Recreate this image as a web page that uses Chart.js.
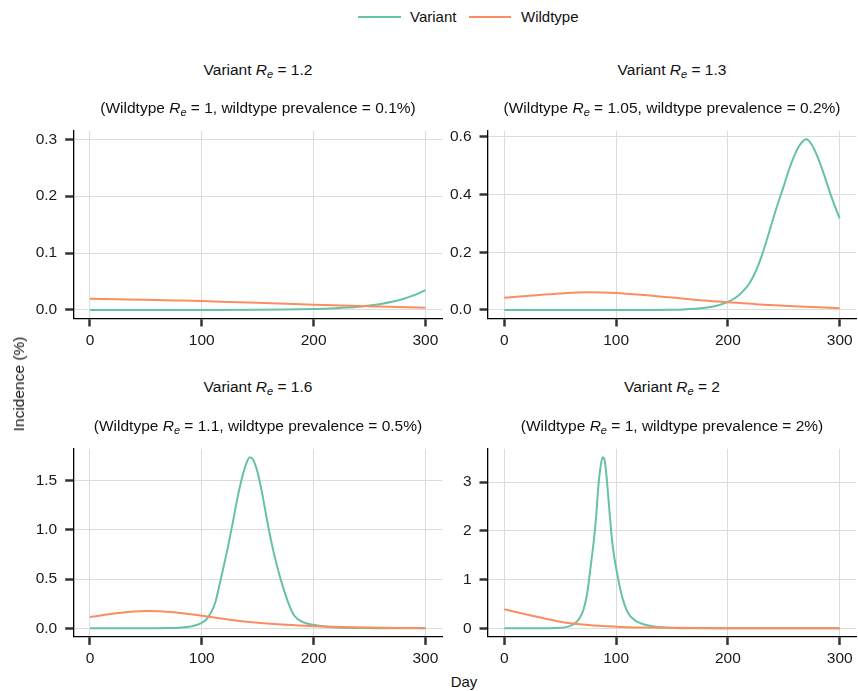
<!DOCTYPE html>
<html>
<head>
<meta charset="utf-8">
<script src="https://cdn.jsdelivr.net/npm/chart.js@4.4.1/dist/chart.umd.min.js"></script>
<style>
    body { margin: 0; background: #fff; font-family: "Liberation Sans", Arial, sans-serif; color: #111; }
    #wrap { position: relative; width: 858px; height: 691px; overflow: hidden; }
    canvas { position: absolute; }
    .title { position: absolute; font-size: 15.5px; white-space: nowrap; transform: translate(-50%, -50%); }
    .title sub { font-size: 11px; font-style: italic; vertical-align: -3px; line-height: 0; }
    .legend { position: absolute; top: 8px; font-size: 15px; height: 18px; line-height: 18px; }
    .swatch { position: absolute; top: 16px; height: 2px; }
    .axis-label { position: absolute; font-size: 15.5px; white-space: nowrap; transform: translate(-50%, -50%); }
</style>
</head>
<body>
<div id="wrap">
    <canvas id="tl" width="450" height="245" style="left:0;top:100px;"></canvas>
    <canvas id="tr" width="408" height="245" style="left:450px;top:100px;"></canvas>
    <canvas id="bl" width="450" height="250" style="left:0;top:420px;"></canvas>
    <canvas id="br" width="408" height="250" style="left:450px;top:420px;"></canvas>

    <div class="swatch" style="left:358px;width:43px;background:#66c2a5;"></div>
    <div class="legend" style="left:410px;">Variant</div>
    <div class="swatch" style="left:469px;width:42px;background:#fc8d62;"></div>
    <div class="legend" style="left:521px;">Wildtype</div>

    <div class="title" style="left:258px;top:70px;">Variant <i>R</i><sub>e</sub> = 1.2</div>
    <div class="title" style="left:258px;top:108px;">(Wildtype <i>R</i><sub>e</sub> = 1, wildtype prevalence = 0.1%)</div>
    <div class="title" style="left:672px;top:70px;">Variant <i>R</i><sub>e</sub> = 1.3</div>
    <div class="title" style="left:672px;top:108px;">(Wildtype <i>R</i><sub>e</sub> = 1.05, wildtype prevalence = 0.2%)</div>
    <div class="title" style="left:258px;top:387px;">Variant <i>R</i><sub>e</sub> = 1.6</div>
    <div class="title" style="left:258px;top:426px;">(Wildtype <i>R</i><sub>e</sub> = 1.1, wildtype prevalence = 0.5%)</div>
    <div class="title" style="left:672px;top:387px;">Variant <i>R</i><sub>e</sub> = 2</div>
    <div class="title" style="left:672px;top:426px;">(Wildtype <i>R</i><sub>e</sub> = 1, wildtype prevalence = 2%)</div>

    <div class="axis-label" style="left:19px;top:384px;transform:translate(-50%,-50%) rotate(-90deg);">Incidence (%)</div>
    <div class="axis-label" style="left:464px;top:681px;font-size:15px;">Day</div>
</div>
<script>
// data (incidence in %, by day)
const xTicks = [0, 100, 200, 300];
const wildDays = [0, 25, 50, 75, 100, 125, 150, 175, 200, 225, 250, 275, 300];

// Variant Re = 1.2
const tlVarDays = [0, 50, 100, 150, 175, 200, 210, 220, 230, 240, 250, 260, 270, 280, 290, 300];
const tlVariant = [0, 0, 0.0001, 0.0004, 0.0008, 0.0017, 0.0023, 0.0031, 0.0042, 0.0057, 0.0078, 0.0105, 0.0143, 0.0194, 0.026, 0.035];
const tlWild = [0.0197, 0.0188, 0.0179, 0.0168, 0.0157, 0.0141, 0.0125, 0.0109, 0.0093, 0.0079, 0.0065, 0.0052, 0.004];
const tlYTicks = [0, 0.1, 0.2, 0.3];
const tlYLimit = [0, 0.3];

// Variant Re = 1.3
const trVarDays = [0, 50, 100, 130, 150, 160, 170, 180, 190, 200, 205, 210, 215, 220, 225, 230, 235, 240, 245, 250, 255, 260, 265, 270, 275, 280, 285, 290, 295, 300];
const trVariant = [0, 0, 0.0001, 0.0003, 0.001, 0.002, 0.004, 0.0076, 0.0145, 0.028, 0.038, 0.052, 0.071, 0.097, 0.135, 0.185, 0.245, 0.31, 0.372, 0.43, 0.49, 0.54, 0.575, 0.591, 0.572, 0.532, 0.48, 0.421, 0.366, 0.317];
const trWild = [0.042, 0.05, 0.057, 0.061, 0.059, 0.052, 0.043, 0.034, 0.027, 0.02, 0.015, 0.01, 0.006];
const trYTicks = [0, 0.2, 0.4, 0.6];
const trYLimit = [0, 0.591];

// Variant Re = 1.6
const blVarDays = [0, 40, 60, 70, 80, 88, 92, 96, 100, 104, 108, 112, 116, 120, 124, 128, 132, 136, 140, 143, 146, 150, 154, 158, 162, 166, 170, 174, 178, 182, 186, 190, 194, 198, 202, 210, 220, 230, 240, 260, 300];
const blVariant = [0, 0.0002, 0.001, 0.003, 0.007, 0.016, 0.024, 0.036, 0.057, 0.09, 0.155, 0.26, 0.45, 0.65, 0.86, 1.09, 1.33, 1.53, 1.68, 1.736, 1.71, 1.58, 1.37, 1.12, 0.89, 0.69, 0.52, 0.37, 0.24, 0.14, 0.092, 0.066, 0.05, 0.039, 0.031, 0.018, 0.009, 0.005, 0.0025, 0.0008, 0];
const blWild = [0.115, 0.155, 0.176, 0.163, 0.128, 0.088, 0.057, 0.036, 0.022, 0.013, 0.008, 0.004, 0.002];
const blYTicks = [0, 0.5, 1, 1.5];
const blYLimit = [0, 1.736];

// Variant Re = 2
const brVarDays = [0, 30, 40, 50, 55, 60, 62, 64, 66, 68, 70, 72, 74, 76, 78, 80, 82, 84, 86, 88, 90, 92, 94, 96, 98, 100, 102, 104, 106, 108, 110, 112, 115, 118, 122, 126, 130, 135, 140, 150, 160, 175, 200, 300];
const brVariant = [0, 0.0001, 0.001, 0.01, 0.025, 0.06, 0.085, 0.12, 0.17, 0.24, 0.33, 0.48, 0.7, 1.03, 1.41, 1.78, 2.25, 2.88, 3.3, 3.51, 3.42, 2.98, 2.42, 1.9, 1.52, 1.24, 1.0, 0.78, 0.6, 0.46, 0.35, 0.27, 0.2, 0.145, 0.105, 0.075, 0.053, 0.034, 0.022, 0.009, 0.004, 0.001, 0, 0];
const brWild = [0.39, 0.26, 0.136, 0.068, 0.035, 0.018, 0.01, 0.005, 0.003, 0.001, 0.001, 0, 0];
const brYTicks = [0, 1, 2, 3];
const brYLimit = [0, 3.51];

const VARIANT_COLOR = '#66c2a5';
const WILD_COLOR = '#fc8d62';

Chart.defaults.font.family = '"Liberation Sans", Arial, sans-serif';
Chart.defaults.font.size = 15.5;
Chart.defaults.color = '#1a1a1a';

function toPoints(days, values) {
    return days.map((d, i) => ({ x: d, y: values[i] }));
}

// box = canvas position, plot = wanted plot area in page pixels
function makePanel(id, box, plot, varDays, variant, wild, yTicks, yLimit, decimals) {
    const xExp = 0.05 * 300;
    const yExp = 0.05 * (yLimit[1] - yLimit[0]);
    const axisGrid = {
        color: '#dcdcdc',
        lineWidth: 1,
        drawTicks: true,
        tickLength: 8,
        tickColor: '#333',
        tickWidth: 2.5
    };

    new Chart(document.getElementById(id), {
        type: 'line',
        data: {
            datasets: [
                {
                    label: 'Wildtype',
                    data: toPoints(wildDays, wild),
                    borderColor: WILD_COLOR,
                    borderWidth: 2,
                    pointRadius: 0,
                    cubicInterpolationMode: 'monotone'
                },
                {
                    label: 'Variant',
                    data: toPoints(varDays, variant),
                    borderColor: VARIANT_COLOR,
                    borderWidth: 2,
                    pointRadius: 0,
                    cubicInterpolationMode: 'monotone'
                }
            ]
        },
        options: {
            responsive: false,
            animation: false,
            layout: {
                padding: {
                    top: plot.top - box.top,
                    right: box.left + box.w - plot.right,
                    left: 0,
                    bottom: 0
                }
            },
            plugins: {
                legend: { display: false },
                tooltip: { enabled: false }
            },
            scales: {
                x: {
                    type: 'linear',
                    min: -xExp,
                    max: 300 + xExp,
                    grid: axisGrid,
                    border: { display: true, color: '#000', width: 1.3 },
                    ticks: { padding: 5, maxRotation: 0 },
                    afterBuildTicks: s => { s.ticks = xTicks.map(v => ({ value: v })); },
                    afterFit: s => { s.height = box.top + box.h - plot.bottom; }
                },
                y: {
                    type: 'linear',
                    min: yLimit[0] - yExp,
                    max: yLimit[1] + yExp,
                    grid: axisGrid,
                    border: { display: true, color: '#000', width: 1.3 },
                    ticks: {
                        padding: 8,
                        callback: v => v.toFixed(decimals)
                    },
                    afterBuildTicks: s => { s.ticks = yTicks.map(v => ({ value: v })); },
                    afterFit: s => { s.width = plot.left - box.left; }
                }
            }
        }
    });
}

const topRow = { top: 130.8, bottom: 318.5 };
const bottomRow = { top: 448.8, bottom: 636.9 };
const leftCol = { left: 73.2, right: 442.2 };
const rightCol = { left: 487.5, right: 856.5 };

makePanel('tl', { left: 0, top: 100, w: 450, h: 245 }, { ...topRow, ...leftCol }, tlVarDays, tlVariant, tlWild, tlYTicks, tlYLimit, 1);
makePanel('tr', { left: 450, top: 100, w: 408, h: 245 }, { ...topRow, ...rightCol }, trVarDays, trVariant, trWild, trYTicks, trYLimit, 1);
makePanel('bl', { left: 0, top: 420, w: 450, h: 250 }, { ...bottomRow, ...leftCol }, blVarDays, blVariant, blWild, blYTicks, blYLimit, 1);
makePanel('br', { left: 450, top: 420, w: 408, h: 250 }, { ...bottomRow, ...rightCol }, brVarDays, brVariant, brWild, brYTicks, brYLimit, 0);
</script>
</body>
</html>
